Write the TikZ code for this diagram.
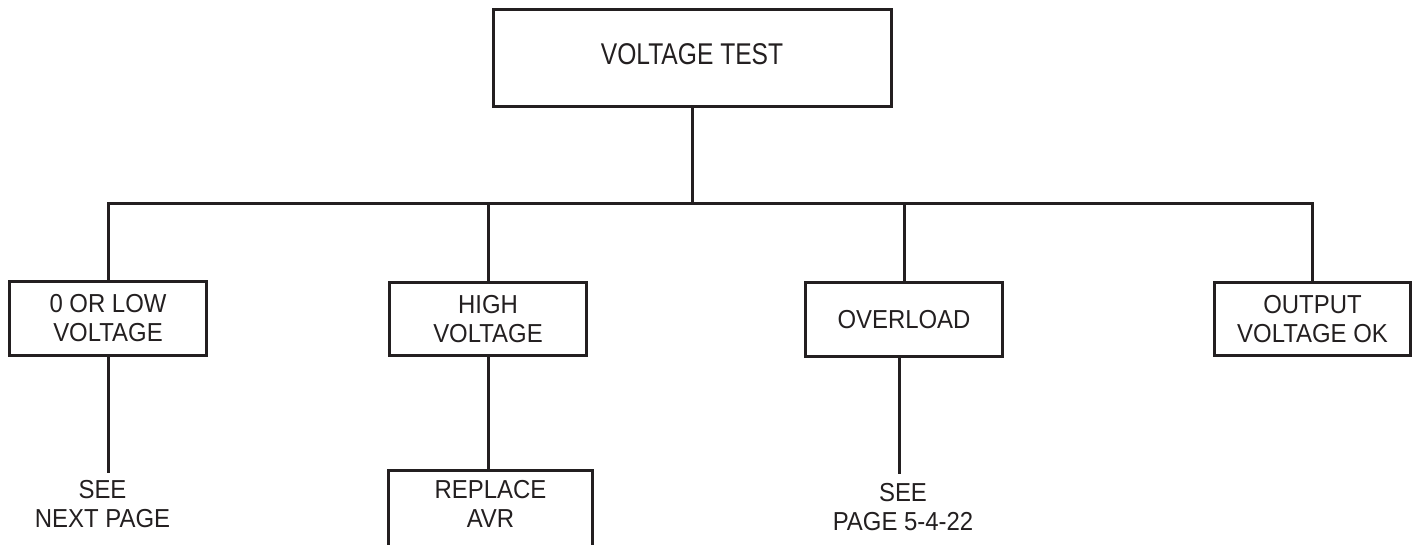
\documentclass[tikz,border=0pt]{standalone}
\usepackage{fontspec}
\setmainfont{Liberation Sans}
\newfontfamily\boxfont[FakeStretch=0.92]{Liberation Sans}
\newfontfamily\topfont[FakeStretch=0.82]{Liberation Sans}
\definecolor{ink}{HTML}{231F20}
\begin{document}
\begin{tikzpicture}[x=1pt,y=-1pt,line width=3pt,draw=ink,
  box/.style={draw=ink,rectangle,inner sep=0pt,align=center,text=ink,
    font=\boxfont\fontsize{26}{29}\selectfont,minimum width=197pt,minimum height=74pt},
  lbl/.style={align=center,inner sep=0pt,text=ink,font=\boxfont\fontsize{26}{29}\selectfont}]
\useasboundingbox (0,0) rectangle (1419,545);
\node[box,minimum width=398pt,minimum height=97pt,font=\topfont\fontsize{30}{34}\selectfont,text depth=8pt] (top) at (692,58) {VOLTAGE TEST};
\node[box] (low) at (108,318.5) {0 OR LOW\\VOLTAGE};
\node[box,minimum height=73pt] (high) at (488,319) {HIGH\\VOLTAGE};
\node[box] (over) at (904,319.5) {OVERLOAD};
\node[box,minimum width=196pt,minimum height=73pt] (ok) at (1312.5,319) {OUTPUT\\VOLTAGE OK};
\node[box,minimum width=204pt,minimum height=80pt,text depth=13pt] (avr) at (490.5,510.5) {REPLACE\\AVR};
\node[lbl] (snp) at (102.5,504) {SEE\\NEXT PAGE};
\node[lbl] (sp) at (903,507) {SEE\\PAGE 5-4-22};
\coordinate (bus) at (0,204);
\coordinate (lowend) at (108,473);
\coordinate (overend) at (899,474);
\draw[ink] (top.south) -- (top.south |- bus);
\draw[ink] (low.north) -- (low.north |- bus) -- (ok.north |- bus) -- (ok.north);
\draw[ink] (high.north) -- (high.north |- bus);
\draw[ink] (over.north) -- (over.north |- bus);
\draw[ink] (low.south) -- (lowend);
\draw[ink] (high.south) -- (high.south |- avr.north);
\draw[ink] (overend |- over.south) -- (overend);
\end{tikzpicture}
\end{document}
